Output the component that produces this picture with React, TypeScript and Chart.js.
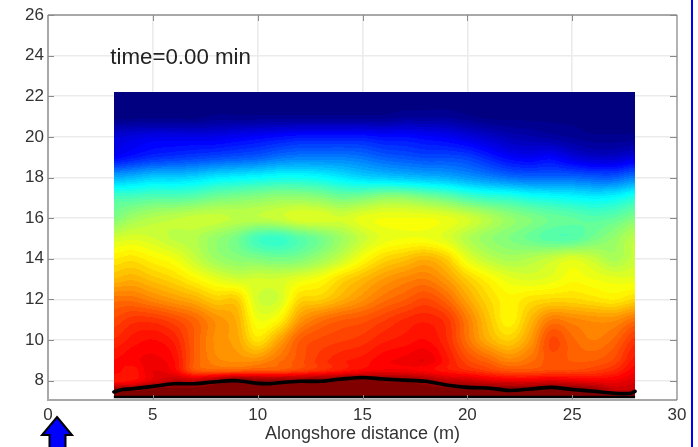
import React, { useEffect, useRef } from "react";
import { Chart, registerables } from "chart.js";

Chart.register(...registerables);

const xCells = [3.14, 4, 5, 6, 7, 8, 9, 10, 11, 12, 13, 14, 15, 16, 17, 18, 19, 20, 21, 22, 23, 24, 25, 26, 27, 28];
const yCells = [22.2, 21, 20, 19, 18, 17, 16, 15, 14, 13, 12, 11, 10, 9, 8.5, 8, 7.5, 7.15];

const r222 = [0, 0, 0, 0, 0, 0, 0, 0, 0, 0, 0, 0, 0, 0, 0, 0, 0, 0, 0, 0, 0, 0, 0, 0, 0, 0];
const r21 = [.01, .01, .01, .01, .01, .02, .02, .02, .02, .02, .02, .02, .02, .02, .03, .03, .03, .02, .01, .01, .01, .01, .01, .01, .01, .01];
const r20 = [.09, .1, .11, .11, .11, .11, .12, .13, .14, .15, .15, .15, .15, .14, .14, .13, .12, .1, .08, .06, .05, .04, .03, .02, .02, .02];
const r19 = [.13, .15, .17, .18, .19, .2, .21, .22, .24, .25, .25, .25, .24, .22, .21, .2, .2, .19, .16, .13, .12, .13, .1, .08, .08, .1];
const r18 = [.3, .31, .33, .33, .34, .36, .37, .38, .39, .39, .38, .36, .34, .33, .32, .31, .3, .28, .26, .24, .23, .23, .23, .22, .22, .25];
const r17 = [.45, .45, .46, .46, .47, .49, .5, .51, .52, .52, .51, .49, .5, .52, .52, .5, .48, .45, .43, .42, .4, .39, .38, .37, .38, .41];
const r16 = [.5, .53, .55, .56, .57, .57, .56, .56, .57, .59, .59, .58, .6, .61, .61, .61, .6, .58, .55, .52, .5, .48, .47, .46, .47, .5];
const r15 = [.58, .59, .58, .56, .55, .52, .49, .44, .43, .46, .49, .53, .57, .6, .61, .61, .59, .55, .52, .5, .48, .46, .46, .49, .52, .56];
const r14 = [.64, .65, .63, .61, .57, .53, .51, .5, .49, .5, .53, .57, .62, .66, .68, .7, .67, .6, .56, .54, .55, .57, .59, .57, .54, .57];
const r13 = [.69, .7, .68, .66, .63, .6, .58, .58, .58, .6, .62, .66, .69, .72, .74, .75, .72, .67, .63, .6, .59, .6, .62, .61, .6, .6];
const r12 = [.76, .76, .74, .72, .7, .67, .67, .58, .58, .66, .67, .7, .73, .76, .78, .8, .77, .71, .66, .63, .65, .66, .66, .65, .64, .66];
const r11 = [.8, .82, .82, .8, .77, .73, .7, .61, .63, .72, .76, .78, .79, .81, .83, .84, .82, .75, .68, .63, .69, .75, .74, .73, .73, .76];
const r10 = [.83, .85, .86, .84, .78, .73, .71, .65, .71, .78, .8, .81, .82, .84, .85, .86, .83, .76, .7, .67, .72, .8, .77, .75, .77, .82];
const r9 = [.86, .87, .88, .86, .78, .74, .73, .73, .76, .79, .82, .84, .85, .87, .88, .89, .85, .8, .77, .74, .76, .79, .78, .78, .8, .85];
const r85 = [.87, .85, .89, .87, .79, .78, .78, .79, .79, .81, .83, .85, .87, .88, .88, .87, .85, .83, .81, .79, .79, .8, .8, .81, .83, .87];
const r8 = [.85, .86, .9, .93, .93, .96, 1, .98, .98, .98, .99, 1, 1, .99, .98, .96, .93, .92, .9, .89, .89, .9, .89, .88, .88, .9];
const r75 = [.98, .98, 1, 1, 1, 1, 1, 1, 1, 1, 1, 1, 1, 1, 1, 1, 1, 1, 1, 1, 1, 1, 1, .98, .93, .93];
const r715 = [1, 1, 1, 1, 1, 1, 1, 1, 1, 1, 1, 1, 1, 1, 1, 1, 1, 1, 1, 1, 1, 1, 1, 1, 1, 1];
const heatRows = [r222, r21, r20, r19, r18, r17, r16, r15, r14, r13, r12, r11, r10, r9, r85, r8, r75, r715];

const shoreX = [3.14, 3.5, 4, 5, 6, 7, 8, 9, 10, 10.5, 11, 12, 13, 14, 15, 16, 17, 18, 19, 20, 21, 22, 23, 24, 25, 26, 27, 27.8, 28];
const shoreY = [7.45, 7.55, 7.6, 7.72, 7.85, 7.85, 7.95, 8.0, 7.87, 7.85, 7.9, 7.97, 7.97, 8.08, 8.16, 8.08, 8.03, 7.97, 7.79, 7.67, 7.64, 7.52, 7.59, 7.67, 7.57, 7.48, 7.38, 7.38, 7.48];
const baseX = [3.14, 28];
const baseY = [7.2, 7.2];

const yTicks = [8, 10, 12, 14, 16, 18, 20, 22, 24, 26];
const annotation = "time=0.00 min";
const xTitle = "Alongshore distance (m)";

const FONT = "'Liberation Sans', Arial, sans-serif";

function jet(v: number): [number, number, number] {
  const q = Math.min(63, Math.floor(v * 64)) / 63;
  const c = (t: number) => Math.max(0, Math.min(1, 1.5 - Math.abs(4 * q - t)));
  return [c(3) * 255, c(2) * 255, c(1) * 255];
}

function locate(list: number[], value: number) {
  const desc = list[0] > list[list.length - 1];
  for (let i = 0; i < list.length - 1; i++) {
    const a = list[i], b = list[i + 1];
    if (desc ? value >= b : value <= b) return i + (value - a) / (b - a);
  }
  return list.length - 1;
}

function cr(p0: number, p1: number, p2: number, p3: number, t: number) {
  return 0.5 * (2 * p1 + (p2 - p0) * t + (2 * p0 - 5 * p1 + 4 * p2 - p3) * t * t + (3 * p1 - p0 - 3 * p2 + p3) * t * t * t);
}

function sample(fx: number, fy: number) {
  const ci = Math.floor(fx), ri = Math.floor(fy);
  const tx = fx - ci, ty = fy - ri;
  const vals: number[] = [];
  for (let r = ri - 1; r <= ri + 2; r++) {
    const row = heatRows[Math.max(0, Math.min(heatRows.length - 1, r))];
    const g = (k: number) => row[Math.max(0, Math.min(row.length - 1, k))];
    vals.push(cr(g(ci - 1), g(ci), g(ci + 1), g(ci + 2), tx));
  }
  return Math.max(0, Math.min(1, cr(vals[0], vals[1], vals[2], vals[3], ty)));
}

const heatPlugin = {
  id: "heat",
  beforeDatasetsDraw(chart: any) {
    const { ctx, scales: { x, y } } = chart;
    const left = Math.round(x.getPixelForValue(xCells[0]));
    const right = Math.round(x.getPixelForValue(xCells[xCells.length - 1]));
    const top = Math.round(y.getPixelForValue(yCells[0]));
    const bottom = Math.round(y.getPixelForValue(yCells[yCells.length - 1]));
    const w = right - left, h = bottom - top;
    const img = ctx.createImageData(w, h);
    for (let j = 0; j < h; j++) {
      const fy = locate(yCells, y.getValueForPixel(top + j + 0.5));
      for (let i = 0; i < w; i++) {
        const fx = locate(xCells, x.getValueForPixel(left + i + 0.5));
        const [r, g, b] = jet(sample(fx, fy));
        const o = (j * w + i) * 4;
        img.data[o] = r; img.data[o + 1] = g; img.data[o + 2] = b; img.data[o + 3] = 255;
      }
    }
    ctx.putImageData(img, left, top);
  },
  afterDraw(chart: any) {
    const { ctx, chartArea: a, scales: { x, y } } = chart;
    ctx.save();
    // frame
    ctx.strokeStyle = "#a8a8a8"; ctx.lineWidth = 2;
    ctx.beginPath(); ctx.moveTo(a.left, a.top); ctx.lineTo(a.left, a.bottom); ctx.lineTo(a.right, a.bottom); ctx.stroke();
    ctx.beginPath(); ctx.moveTo(a.left, a.top); ctx.lineTo(a.right, a.top); ctx.stroke();
    ctx.strokeStyle = "#808080"; ctx.lineWidth = 1.2;
    ctx.beginPath(); ctx.moveTo(a.right, a.top); ctx.lineTo(a.right, a.bottom); ctx.stroke();
    // inward ticks
    ctx.strokeStyle = "#8a8a8a"; ctx.lineWidth = 1;
    for (const t of yTicks) {
      const p = Math.round(y.getPixelForValue(t)) + 0.5;
      ctx.beginPath(); ctx.moveTo(a.right - 7, p); ctx.lineTo(a.right, p); ctx.stroke();
      ctx.beginPath(); ctx.moveTo(a.left, p); ctx.lineTo(a.left + 6, p); ctx.stroke();
    }
    for (const t of [5, 10, 15, 20, 25]) {
      const p = Math.round(x.getPixelForValue(t)) + 0.5;
      ctx.beginPath(); ctx.moveTo(p, a.top); ctx.lineTo(p, a.top + 6); ctx.stroke();
      ctx.beginPath(); ctx.moveTo(p, a.bottom - 5); ctx.lineTo(p, a.bottom); ctx.stroke();
    }
    // annotation
    ctx.fillStyle = "#222"; ctx.font = `22.3px ${FONT}`; ctx.textAlign = "left"; ctx.textBaseline = "alphabetic";
    ctx.fillText(annotation, x.getPixelForValue(2.97), y.getPixelForValue(23.6));
    // page overlays: blue rule and arrow
    ctx.fillStyle = "#0000ff";
    ctx.fillRect(691, 0, 2, chart.height);
    ctx.beginPath();
    ctx.moveTo(57, 417); ctx.lineTo(72, 435); ctx.lineTo(65.5, 435); ctx.lineTo(65.5, 450);
    ctx.lineTo(49.5, 450); ctx.lineTo(49.5, 435); ctx.lineTo(42, 435); ctx.closePath();
    ctx.fill();
    ctx.strokeStyle = "#000"; ctx.lineWidth = 2; ctx.stroke();
    ctx.restore();
  },
};

export default function App() {
  const ref = useRef<HTMLCanvasElement>(null);
  useEffect(() => {
    const heatData: { x: number; y: number; v: number }[] = [];
    yCells.forEach((yy, r) => xCells.forEach((xx, c) => heatData.push({ x: xx, y: yy, v: heatRows[r][c] })));
    const chart = new Chart(ref.current as HTMLCanvasElement, {
      type: "scatter",
      plugins: [heatPlugin],
      data: {
        datasets: [
          { label: "Field", data: heatData, pointRadius: 0, showLine: false },
          {
            label: "Shoreline",
            data: shoreX.map((xx, i) => ({ x: xx, y: shoreY[i] })),
            showLine: true, borderColor: "#000", borderWidth: 3.6, pointRadius: 0, tension: 0.3,
            borderCapStyle: "round", clip: false,
          },
          {
            label: "Base",
            data: baseX.map((xx, i) => ({ x: xx, y: baseY[i] })),
            showLine: true, borderColor: "#000", borderWidth: 2.5, pointRadius: 0,
          },
        ],
      } as any,
      options: {
        animation: false,
        responsive: false,
        events: [],
        layout: { padding: { top: 15, right: 21, left: 0, bottom: 0 } },
        plugins: { legend: { display: false }, tooltip: { enabled: false }, title: { display: false } },
        scales: {
          x: {
            type: "linear", min: 0, max: 30,
            afterFit: (s: any) => { s.height = 47; },
            border: { display: false },
            grid: {
              drawTicks: false, lineWidth: 1.6,
              color: (c: any) => (c.tick.value === 0 || c.tick.value === 30 ? "rgba(0,0,0,0)" : "#ebebeb"),
            },
            ticks: { stepSize: 5, padding: 5, maxRotation: 0, color: "#333", font: { family: FONT, size: 17 } },
            title: { display: true, text: xTitle, color: "#333", padding: { top: 0, bottom: 2 }, font: { family: FONT, size: 18 } },
          },
          y: {
            type: "linear", min: 7.05, max: 26,
            afterBuildTicks: (s: any) => { s.ticks = yTicks.map((v) => ({ value: v })); },
            afterFit: (s: any) => { s.width = 48; },
            border: { display: false },
            grid: {
              drawTicks: false, lineWidth: 1.6,
              color: (c: any) => (c.tick.value === 26 ? "rgba(0,0,0,0)" : "#ebebeb"),
            },
            ticks: { padding: 4, color: "#333", font: { family: FONT, size: 17 }, autoSkip: false },
          },
        },
      } as any,
    });
    return () => chart.destroy();
  }, []);
  return (
    <div style={{ position: "fixed", left: 0, top: 0, width: 698, height: 447, background: "#fff" }}>
      <canvas ref={ref} width={698} height={447} style={{ display: "block", width: 698, height: 447, filter: "blur(0.7px)" }} />
    </div>
  );
}
